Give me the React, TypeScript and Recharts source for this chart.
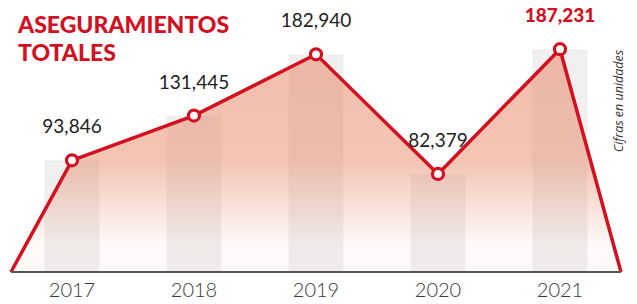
import { ComposedChart, Area, Bar, XAxis, YAxis, LabelList } from 'recharts';

// values
const years = ['2017', '2018', '2019', '2020', '2021'];
const totals = [93846, 131445, 182940, 82379, 187231];
const highlightYear = '2021';
// line starts and ends on the baseline half a band outside the first/last year
const edgeStart = -0.5;
const edgeEnd = 4.5;

const RED = '#d3101f';
const FONT = 'Lato, "Open Sans", sans-serif';

const barData = years.map((year, i) => ({ x: i, year, bar: totals[i] }));
const lineData = [
  { x: edgeStart, total: 0 },
  ...years.map((year, i) => ({ x: i, year, total: totals[i] })),
  { x: edgeEnd, total: 0 },
];

const renderDot = (props: any) => {
  const { cx, cy, payload, index } = props;
  if (!payload.year) return <g key={`d-${index}`} />;
  return (
    <circle key={`d-${index}`} cx={cx} cy={cy} r={5.5} fill="#fff" stroke={RED} strokeWidth={3.2} />
  );
};

const renderLabel = (props: any) => {
  const { x, y, value, index } = props;
  const row = lineData[index];
  if (!row || !row.year) return null;
  const hot = row.year === highlightYear;
  return (
    <text
      x={x}
      y={y - 27}
      textAnchor="middle"
      fontFamily={FONT}
      fontSize={19}
      fontWeight={hot ? 900 : 400}
      fill={hot ? RED : '#222'}
    >
      {Number(value).toLocaleString('en-US')}
    </text>
  );
};

export default function App() {
  return (
    <div style={{ position: 'absolute', left: 0, top: 0, width: 637, height: 304, background: '#fff' }}>
      <ComposedChart
        width={637}
        height={304}
        data={barData}
        margin={{ top: 34, right: 16, bottom: 2, left: 11 }}
      >
        <defs>
          <linearGradient id="areaFill" x1="0" y1="0" x2="0" y2="1">
            <stop offset="0%" stopColor="#e8896a" stopOpacity={0.55} />
            <stop offset="50%" stopColor="#e8896a" stopOpacity={0.5} />
            <stop offset="88%" stopColor="#e8896a" stopOpacity={0.04} />
          </linearGradient>
        </defs>
        <XAxis
          dataKey="x"
          type="number"
          height={30}
          domain={[edgeStart, edgeEnd]}
          ticks={years.map((_, i) => i)}
          tickFormatter={(v) => years[v] ?? ''}
          axisLine={{ stroke: '#555', strokeWidth: 2 }}
          tickLine={false}
          tick={{ fill: '#3a3a3a', fontSize: 20, fontFamily: FONT, fontWeight: 300 }}
          tickMargin={5}
        />
        <YAxis hide domain={[0, 200000]} />
        <Bar dataKey="bar" barSize={72} fill="#efefef" zIndex={50} isAnimationActive={false} />
        <Area
          data={lineData}
          type="linear"
          dataKey="total"
          stroke={RED}
          strokeWidth={3.5}
          fill="url(#areaFill)"
          fillOpacity={1}
          dot={renderDot}
          activeDot={false}
          zIndex={400}
          isAnimationActive={false}
        >
          <LabelList dataKey="total" content={renderLabel} />
        </Area>
      </ComposedChart>
      <div
        style={{
          position: 'absolute',
          left: 18,
          top: 10,
          fontFamily: FONT,
          fontWeight: 900,
          fontSize: 23,
          lineHeight: '28px',
          color: RED,
        }}
      >
        ASEGURAMIENTOS
        <br />
        TOTALES
      </div>
      <div
        style={{
          position: 'absolute',
          left: 618,
          top: 101,
          transform: 'translate(-50%, -50%) rotate(-90deg)',
          fontFamily: '"Open Sans", sans-serif',
          fontStyle: 'italic',
          fontSize: 12.5,
          color: '#333',
          whiteSpace: 'nowrap',
        }}
      >
        Cifras en unidades
      </div>
    </div>
  );
}
